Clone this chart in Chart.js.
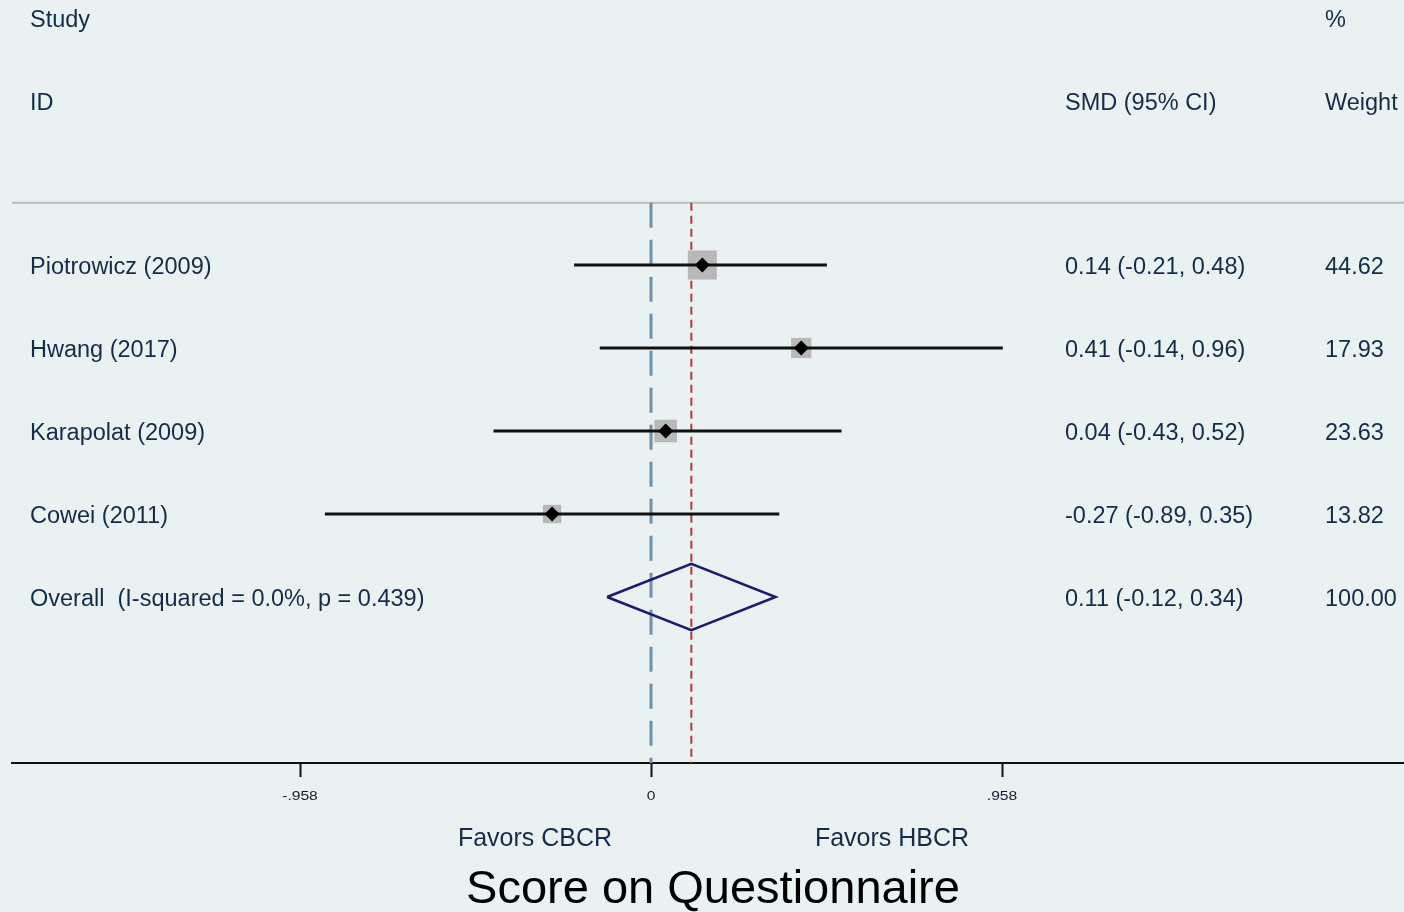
<!DOCTYPE html>
<html><head><meta charset="utf-8">
<script src="https://cdn.jsdelivr.net/npm/chart.js@4.4.1/dist/chart.umd.min.js"></script>
<style>html,body{margin:0;padding:0;background:#eaf1f3;} #wrap{width:1404px;height:912px;position:relative;}</style>
</head><body><div id="wrap"><canvas id="c"></canvas></div>
<script>
const studies = ["Piotrowicz (2009)", "Hwang (2017)", "Karapolat (2009)", "Cowei (2011)"];
const smd = [0.14, 0.41, 0.04, -0.27];
const ciLow = [-0.21, -0.14, -0.43, -0.89];
const ciHigh = [0.48, 0.96, 0.52, 0.35];
const weights = [44.62, 17.93, 23.63, 13.82];
const overallLabel = "Overall  (I-squared = 0.0%, p = 0.439)";
const overallEst = 0.11, overallLow = -0.12, overallHigh = 0.34;
const overallWeight = 100.00;
const axisTicks = [-0.958, 0, 0.958];
const tickLabels = ["-.958", "0", ".958"];
const favorLabels = ["Favors CBCR", "Favors HBCR"];
const chartTitle = "Score on Questionnaire";

const XMIN = -1.744, XMAX = 2.055;
const YMIN = -2.193, YMAX = 7;
const SEP_Y = 0.25;
const TEXT = '#132c48';
const FONT = '"Liberation Sans", Arial, Helvetica, sans-serif';
const fmt = v => v.toFixed(2);

const overallRow = studies.length + 1;

const ciSets = studies.map((s, i) => ({
  data: [{x: ciLow[i], y: i + 1}, {x: ciHigh[i], y: i + 1}],
  showLine: true, borderColor: '#111', borderWidth: 3, pointRadius: 0, order: 1
}));

const datasets = [
  { data: [{x: 0, y: SEP_Y}, {x: 0, y: YMAX}], showLine: true, borderColor: '#6f92ab', borderWidth: 3,
    borderDash: [25, 12], pointRadius: 0, order: 4 },
  { data: [{x: overallEst, y: SEP_Y}, {x: overallEst, y: YMAX}], showLine: true, borderColor: '#b23a3a', borderWidth: 2,
    borderDash: [8, 5], pointRadius: 0, order: 4 },
  { data: [{x: XMIN, y: SEP_Y}, {x: XMAX, y: SEP_Y}], showLine: true, borderColor: '#bdbdbd', borderWidth: 2,
    pointRadius: 0, order: 4 },
  { data: smd.map((v, i) => ({x: v, y: i + 1})), pointStyle: 'rect',
    pointRadius: weights.map(w => (5 + 3.6 * Math.sqrt(w)) / Math.SQRT2), backgroundColor: '#b8b8b8',
    borderWidth: 0, order: 2 },
  ...ciSets,
  { data: smd.map((v, i) => ({x: v, y: i + 1})), pointStyle: 'rectRot', pointRadius: 7.5,
    backgroundColor: '#000', borderWidth: 0, order: 0 },
  { data: [{x: overallLow, y: overallRow}, {x: overallEst, y: overallRow - 0.4}, {x: overallHigh, y: overallRow},
           {x: overallEst, y: overallRow + 0.4}, {x: overallLow, y: overallRow}],
    showLine: true, borderColor: '#1b1b6e', borderWidth: 2.5, pointRadius: 0, fill: false, order: 0,
    borderJoinStyle: 'miter' }
];

const textPlugin = {
  id: 'forestText',
  afterDraw(chart) {
    const ctx = chart.ctx, ys = chart.scales.y, xs = chart.scales.x;
    ctx.save();
    ctx.fillStyle = TEXT;
    ctx.font = '23.5px ' + FONT;
    ctx.textBaseline = 'middle';
    ctx.textAlign = 'left';
    ctx.fillText('Study', 30, 21);
    ctx.fillText('ID', 30, 104);
    ctx.fillText('SMD (95% CI)', 1065, 104);
    ctx.fillText('%', 1325, 21);
    ctx.fillText('Weight', 1325, 104);
    studies.forEach((s, i) => {
      const y = ys.getPixelForValue(i + 1) + 3;
      ctx.fillText(s, 30, y);
      ctx.fillText(`${fmt(smd[i])} (${fmt(ciLow[i])}, ${fmt(ciHigh[i])})`, 1065, y);
      ctx.fillText(fmt(weights[i]), 1325, y);
    });
    const yo = ys.getPixelForValue(overallRow) + 3;
    ctx.fillText(overallLabel, 30, yo);
    ctx.fillText(`${fmt(overallEst)} (${fmt(overallLow)}, ${fmt(overallHigh)})`, 1065, yo);
    ctx.fillText(fmt(overallWeight), 1325, yo);

    // tick labels (horizontally stretched like the original)
    ctx.font = '12px ' + FONT;
    ctx.fillStyle = '#1a1a2a';
    ctx.textAlign = 'center';
    axisTicks.forEach((v, i) => {
      const px = xs.getPixelForValue(v);
      ctx.save();
      ctx.translate(px, 797);
      ctx.scale(1.3, 1);
      ctx.fillText(tickLabels[i], 0, 0);
      ctx.restore();
    });

    ctx.fillStyle = TEXT;
    ctx.font = '25px ' + FONT;
    ctx.fillText(favorLabels[0], 535, 839);
    ctx.fillText(favorLabels[1], 892, 839);
    ctx.fillStyle = '#000';
    ctx.font = '47px ' + FONT;
    ctx.fillText(chartTitle, 713, 890);
    ctx.restore();
  }
};

new Chart(document.getElementById('c'), {
  type: 'scatter',
  data: { datasets },
  options: {
    responsive: true, maintainAspectRatio: false, animation: false,
    layout: { autoPadding: false, padding: { left: 12, right: 0, top: 0, bottom: 0 } },
    plugins: { legend: { display: false }, tooltip: { enabled: false }, title: { display: false } },
    scales: {
      x: {
        type: 'linear', min: XMIN, max: XMAX,
        afterBuildTicks: s => { s.ticks = axisTicks.map(v => ({ value: v })); },
        afterFit: s => { s.height = 149; },
        ticks: { display: false, autoSkip: false, maxRotation: 0 },
        grid: { drawOnChartArea: false, drawTicks: true, tickLength: 14, tickColor: '#111', tickWidth: 2 },
        border: { display: true, color: '#111', width: 2 }
      },
      y: { type: 'linear', min: YMIN, max: YMAX, reverse: true, display: false }
    }
  },
  plugins: [textPlugin]
});
</script></body></html>
